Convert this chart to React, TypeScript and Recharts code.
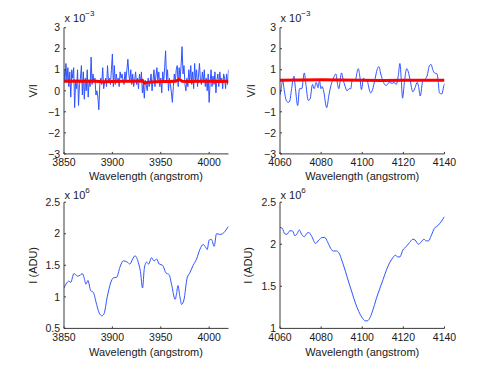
import React from 'react';
import { LineChart, Line, XAxis, YAxis } from 'recharts';

// ---------- Panel 1: V/I (x 1e-3), 3850-4020 A ----------
const wl1 = [
  3850, 3851, 3852, 3853, 3854, 3855, 3856, 3857, 3858, 3859,
  3860, 3861, 3862, 3863, 3864, 3865, 3866, 3867, 3868, 3869,
  3870, 3871, 3872, 3873, 3874, 3875, 3876, 3877, 3878, 3879,
  3880, 3881, 3882, 3883, 3884, 3885, 3886, 3887, 3888, 3889,
  3890, 3891, 3892, 3893, 3894, 3895, 3896, 3897, 3898, 3899,
  3900, 3901, 3902, 3903, 3904, 3905, 3906, 3907, 3908, 3909,
  3910, 3911, 3912, 3913, 3914, 3915, 3916, 3917, 3918, 3919,
  3920, 3921, 3922, 3923, 3924, 3925, 3926, 3927, 3928, 3929,
  3930, 3931, 3932, 3933, 3934, 3935, 3936, 3937, 3938, 3939,
  3940, 3941, 3942, 3943, 3944, 3945, 3946, 3947, 3948, 3949,
  3950, 3951, 3952, 3953, 3954, 3955, 3956, 3957, 3958, 3959,
  3960, 3961, 3962, 3963, 3964, 3965, 3966, 3967, 3968, 3969,
  3970, 3971, 3972, 3973, 3974, 3975, 3976, 3977, 3978, 3979,
  3980, 3981, 3982, 3983, 3984, 3985, 3986, 3987, 3988, 3989,
  3990, 3991, 3992, 3993, 3994, 3995, 3996, 3997, 3998, 3999,
  4000, 4001, 4002, 4003, 4004, 4005, 4006, 4007, 4008, 4009,
  4010, 4011, 4012, 4013, 4014, 4015, 4016, 4017, 4018, 4019,
  4020,
];
const vi1 = [
  1.0, 0.5, 1.3, 0.4, 1.1, 0.2, 0.9, -0.3, 1.0, 0.6,
  1.1, -0.8, 0.5, 0.1, 1.0, -0.7, 0.3, 0.6, 1.2, -0.2,
  0.9, -0.4, 0.6, 0.0, 1.0, -0.3, 0.5, 0.2, 1.6, 0.3,
  0.8, 0.4, 0.6, -0.2, 0.0, -0.3, -0.9, 0.3, 0.6, 0.3,
  1.1, 0.1, 0.4, 0.6, 0.2, 1.2, 0.4, 0.6, 0.3, 1.0,
  1.75, 0.2, 1.2, 0.3, 0.8, 0.4, 0.6, 0.2, 0.9, 0.6,
  0.8, 0.5, 0.3, 0.9, 0.5, 1.0, 1.5, 0.8, 0.4, 1.0,
  0.3, 0.8, 0.2, 0.5, 0.9, 0.3, 0.6, 0.1, 0.8, 0.4,
  0.9, -0.1, 0.3, -0.35, 0.5, 0.3, 0.0, 0.6, 0.2, 0.4,
  0.8, 0.0, 0.5, 1.0, 0.2, 0.7, 1.1, 0.5, 0.9, 0.2,
  0.6, -0.1, 0.9, 0.4, 1.1, 1.9, 0.5, 1.0, 0.0, 0.6,
  0.3, -0.1, -0.55, 0.2, 0.8, 0.4, 1.0, 1.2, 0.2, 1.1,
  0.6, 1.2, 2.1, 0.8, 1.2, 0.3, 0.0, 0.6, 0.2, 1.0,
  0.4, 1.2, 0.3, 0.9, 0.1, 1.3, 0.5, 1.0, 0.2, 0.7,
  1.3, 0.5, 0.3, 0.9, 0.4, 1.0, 0.2, 0.6, 0.0, 0.8,
  -0.55, 0.4, 1.0, 0.2, 0.7, 0.3, 0.9, -0.1, 0.5, 0.8,
  0.2, 0.9, 0.4, 0.6, 0.1, 0.8, 0.6, 0.1, 0.8, 0.3,
  1.0,
];
const redWl1 = [3850, 3860, 3870, 3880, 3890, 3900, 3910, 3920, 3928, 3931, 3933, 3936, 3940, 3950, 3960, 3966, 3969, 3972, 3980, 3990, 4000, 4010, 4020];
const red1 = [0.45, 0.46, 0.45, 0.46, 0.43, 0.44, 0.45, 0.45, 0.46, 0.5, 0.36, 0.4, 0.42, 0.44, 0.44, 0.46, 0.55, 0.45, 0.44, 0.45, 0.45, 0.44, 0.45];

// ---------- Panel 2: V/I (x 1e-3), 4060-4140 A ----------
const wl2 = [
  4060, 4060.7, 4061.3, 4062.1, 4063, 4064, 4064.7, 4065.5, 4066.8, 4067.5,
  4068.6, 4069.5, 4070.6, 4071.8, 4072.6, 4073.7, 4074.6, 4075.8, 4076.6, 4077.6,
  4078.5, 4079.2, 4079.9, 4080.5, 4081.2, 4082.7, 4083.8, 4084.9, 4086, 4087.2,
  4088, 4088.6, 4089.9, 4090.8, 4091.7, 4092.6, 4093.6, 4094.4, 4095.1, 4096.8,
  4097.5, 4098.1, 4098.8, 4099.6, 4100.6, 4101.5, 4102.5, 4103.3, 4104.1, 4105,
  4106.3, 4107.2, 4108.1, 4109, 4109.6, 4110.6, 4111.7, 4112.5, 4113.3, 4114.5,
  4115.5, 4116.5, 4117.5, 4118.3, 4119, 4119.6, 4120.5, 4121.6, 4122.4, 4123.3,
  4124.6, 4125.7, 4126.7, 4127.4, 4128.2, 4129.5, 4130.5, 4131.5, 4132.7, 4133.5,
  4134.3, 4135.1, 4136.4, 4137, 4137.5, 4138.7, 4139.4, 4140,
];
const vi2 = [
  -0.2, 0.2, 0.5, 0.0, -0.45, -0.55, -0.5, 0.0, 0.7, 0.1,
  -0.7, 0.1, 0.1, 0.85, 0.3, -0.45, -0.4, 0.3, 0.1, 0.4,
  0.15, 0.5, 0.1, 0.2, 0.0, -0.8, -0.2, 0.3, 0.6, 0.8,
  0.3, 0.1, 0.85, 0.5, 0.2, 0.0, 0.1, 0.1, 0.5, 0.55,
  0.9, 1.05, 0.7, 0.05, 0.6, 0.5, 0.45, 0.1, -0.1, 0.05,
  0.6, 1.0, 1.15, 0.8, 0.6, 0.35, 0.25, 0.35, 0.4, 0.35,
  0.4, 0.3, 0.7, 1.3, 0.5, -0.35, 0.4, 1.05, 0.9, 0.5,
  -0.05, 0.15, 0.4, 0.2, -0.25, 0.5, 0.55, 0.7, 1.2, 1.25,
  1.0, 0.85, 0.8, 0.4, -0.1, -0.15, 0.1, 0.35,
];
const redWl2 = [4060, 4070, 4080, 4090, 4100, 4110, 4120, 4130, 4140];
const red2 = [0.5, 0.51, 0.52, 0.51, 0.5, 0.49, 0.5, 0.5, 0.5];

// ---------- Panel 3: I (ADU, x 1e6), 3850-4020 A ----------
const wl3 = [
  3850, 3852.8, 3855, 3856.9, 3860.3, 3863.8, 3866.5, 3869, 3870.8, 3872.7,
  3874.7, 3877.5, 3880.3, 3883.7, 3886.5, 3889.2, 3891.3, 3894.7, 3898.2, 3901,
  3904.4, 3907.8, 3911.3, 3915.4, 3918, 3921, 3923.3, 3926.7, 3929, 3931.2,
  3933, 3935.3, 3937.4, 3940.5, 3943, 3945.7, 3948.4, 3951.9, 3955.3, 3958.7,
  3961.1, 3964.9, 3966.3, 3967.7, 3969.8, 3971.5, 3973.9, 3977.3, 3980, 3983.5,
  3987, 3990.4, 3993.8, 3996.6, 3998, 4000, 4002.4, 4005.2, 4007.6, 4011,
  4013.8, 4016.5, 4020,
];
const int3 = [
  1.14, 1.22, 1.25, 1.23, 1.37, 1.33, 1.34, 1.37, 1.3, 1.2,
  1.26, 1.1, 1.07, 0.88, 0.74, 0.7, 0.73, 1.0, 1.22, 1.3,
  1.31, 1.47, 1.57, 1.55, 1.52, 1.6, 1.65, 1.55, 1.4, 1.14,
  1.45, 1.55, 1.52, 1.62, 1.57, 1.6, 1.52, 1.5, 1.38, 1.35,
  1.2, 0.96, 1.05, 1.18, 1.0, 0.88, 0.95, 1.3, 1.38, 1.5,
  1.6, 1.75, 1.83, 1.78, 1.75, 1.9, 1.91, 1.8, 2.0, 1.99,
  2.0, 2.04, 2.12,
];

// ---------- Panel 4: I (ADU, x 1e6), 4060-4140 A ----------
const wl4 = [
  4060, 4061.1, 4062.4, 4063.4, 4064.8, 4066, 4067.3, 4068.4, 4069.4, 4070.5,
  4071.8, 4073.1, 4074, 4075.3, 4077.3, 4078.9, 4080.5, 4081.8, 4083.1, 4084.7,
  4085.8, 4087.5, 4088.6, 4090.2, 4091.8, 4093.4, 4095.1, 4096.7, 4098.3, 4099.9,
  4101.5, 4102.5, 4103.6, 4105.2, 4106.8, 4108.5, 4110.1, 4111.7, 4113.3, 4114.9,
  4116.1, 4117.3, 4118.3, 4119.7, 4121.3, 4123, 4124.6, 4125.7, 4127.4, 4128.7,
  4130, 4131.1, 4132.2, 4133.5, 4135.1, 4136.7, 4138.4, 4140,
];
const int4 = [
  2.2, 2.19, 2.12, 2.12, 2.16, 2.16, 2.1, 2.13, 2.17, 2.12,
  2.09, 2.13, 2.14, 2.1, 2.01, 2.05, 2.08, 2.08, 2.03, 1.95,
  1.92, 1.92, 1.9, 1.8, 1.68, 1.55, 1.42, 1.3, 1.2, 1.13,
  1.09, 1.09, 1.12, 1.22, 1.35, 1.47, 1.58, 1.69, 1.78, 1.84,
  1.87, 1.85, 1.85, 1.93, 1.97, 2.02, 2.06, 2.05, 2.0, 2.03,
  2.06, 2.04, 2.04, 2.1, 2.19, 2.22, 2.27, 2.33,
];

// ---------- Axes ----------
const xTicksLeft = [3850, 3900, 3950, 4000];
const xTicksRight = [4060, 4080, 4100, 4120, 4140];
const yTicksVI = [-3, -2, -1, 0, 1, 2, 3];
const yTicksI3 = [0.5, 1, 1.5, 2, 2.5];
const yTicksI4 = [1, 1.5, 2, 2.5];

const xLabel = 'Wavelength (angstrom)';
const yLabelTop = 'V/I';
const yLabelBottom = 'I (ADU)';
const FONT = '"Liberation Sans", Arial, Helvetica, sans-serif';
const BLUE = '#2f52ff';
const RED = '#ff0000';
const AXIS = '#3a3a3a';
const TEXT = '#1a1a1a';

const zip = (xs: number[], ys: number[]) => xs.map((x, i) => ({ x, y: ys[i] }));
const fmt = (v: number) => (v < 0 ? '\u2212' + Math.abs(v) : String(v));

type PanelProps = {
  plotLeft: number;
  plotTop: number;
  plotBottom: number;
  rowTop: number;
  blue: { x: number; y: number }[];
  red?: { x: number; y: number }[];
  xDomain: [number, number];
  xTicks: number[];
  yDomain: [number, number];
  yTicks: number[];
  curve: 'linear' | 'monotone';
};

const PLOT_W = 164.5;
const YAXIS_W = 62;
const XAXIS_H = 32;
const RIGHT = 30;

function Panel(p: PanelProps) {
  const left = p.plotLeft - YAXIS_W;
  const width = YAXIS_W + PLOT_W + RIGHT;
  const height = p.plotBottom - p.rowTop + XAXIS_H + 4;
  return (
    <div style={{ position: 'absolute', left, top: p.rowTop }}>
      <LineChart
        width={width}
        height={height}
        margin={{ top: p.plotTop - p.rowTop, right: RIGHT, bottom: 4, left: 0 }}
      >
        <XAxis
          dataKey="x"
          type="number"
          domain={p.xDomain}
          ticks={p.xTicks}
          interval={0}
          height={XAXIS_H}
          stroke={AXIS}
          tickLine={{ stroke: AXIS }}
          tickSize={-2}
          tickMargin={7}
          tick={{ fill: TEXT, fontSize: 10.5, fontFamily: FONT }}
          allowDataOverflow
        />
        <YAxis
          type="number"
          domain={p.yDomain}
          ticks={p.yTicks}
          interval={0}
          width={YAXIS_W}
          stroke={AXIS}
          tickLine={{ stroke: AXIS }}
          tickSize={-2}
          tickMargin={6}
          tickFormatter={fmt}
          tick={{ fill: TEXT, fontSize: 10.5, fontFamily: FONT }}
          allowDataOverflow
        />
        <Line
          data={p.blue}
          dataKey="y"
          type={p.curve}
          stroke={BLUE}
          strokeWidth={1}
          dot={false}
          activeDot={false}
          isAnimationActive={false}
        />
        {p.red && (
          <Line
            data={p.red}
            dataKey="y"
            type="linear"
            stroke={RED}
            strokeWidth={3}
            dot={false}
            activeDot={false}
            isAnimationActive={false}
          />
        )}
      </LineChart>
    </div>
  );
}

function Multiplier({ x, baseline, exp }: { x: number; baseline: number; exp: string }) {
  return (
    <text x={x} y={baseline} fontFamily={FONT} fontSize={11} fill={TEXT}>
      x 10
      <tspan dy={-6} fontSize={8}>{exp}</tspan>
    </text>
  );
}

function YTitle({ x, y, text }: { x: number; y: number; text: string }) {
  return (
    <text
      x={x}
      y={y}
      transform={`rotate(-90 ${x} ${y})`}
      textAnchor="middle"
      dominantBaseline="central"
      fontFamily={FONT}
      fontSize={11}
      fill={TEXT}
    >
      {text}
    </text>
  );
}

function XTitle({ x, y, text }: { x: number; y: number; text: string }) {
  return (
    <text x={x} y={y} textAnchor="middle" fontFamily={FONT} fontSize={11} fill={TEXT}>
      {text}
    </text>
  );
}

export default function App() {
  const top = { rowTop: 0, plotTop: 27.7, plotBottom: 153.9 };
  const bot = { rowTop: 175, plotTop: 202.2, plotBottom: 328.4 };
  return (
    <div style={{ position: 'absolute', left: 0, top: 0, width: 491, height: 369, background: '#fff', overflow: 'hidden' }}>
      <Panel
        plotLeft={63.8}
        {...top}
        blue={zip(wl1, vi1)}
        red={zip(redWl1, red1)}
        xDomain={[3850, 4020]}
        xTicks={xTicksLeft}
        yDomain={[-3, 3]}
        yTicks={yTicksVI}
        curve="linear"
      />
      <Panel
        plotLeft={280}
        {...top}
        blue={zip(wl2, vi2)}
        red={zip(redWl2, red2)}
        xDomain={[4060, 4140]}
        xTicks={xTicksRight}
        yDomain={[-3, 3]}
        yTicks={yTicksVI}
        curve="monotone"
      />
      <Panel
        plotLeft={63.8}
        {...bot}
        blue={zip(wl3, int3)}
        xDomain={[3850, 4020]}
        xTicks={xTicksLeft}
        yDomain={[0.5, 2.5]}
        yTicks={yTicksI3}
        curve="monotone"
      />
      <Panel
        plotLeft={280}
        {...bot}
        blue={zip(wl4, int4)}
        xDomain={[4060, 4140]}
        xTicks={xTicksRight}
        yDomain={[1, 2.5]}
        yTicks={yTicksI4}
        curve="monotone"
      />
      <svg width={491} height={369} style={{ position: 'absolute', left: 0, top: 0, pointerEvents: 'none' }}>
        <Multiplier x={64.5} baseline={22} exp={'\u22123'} />
        <Multiplier x={280.5} baseline={22} exp={'\u22123'} />
        <Multiplier x={64.5} baseline={198.5} exp="6" />
        <Multiplier x={280.5} baseline={198.5} exp="6" />
        <YTitle x={33.3} y={90.8} text={yLabelTop} />
        <YTitle x={251.5} y={90.8} text={yLabelTop} />
        <YTitle x={33.3} y={265.3} text={yLabelBottom} />
        <YTitle x={248.5} y={265.3} text={yLabelBottom} />
        <XTitle x={146} y={180} text={xLabel} />
        <XTitle x={362.3} y={180} text={xLabel} />
        <XTitle x={146} y={356} text={xLabel} />
        <XTitle x={362.3} y={356} text={xLabel} />
      </svg>
    </div>
  );
}
